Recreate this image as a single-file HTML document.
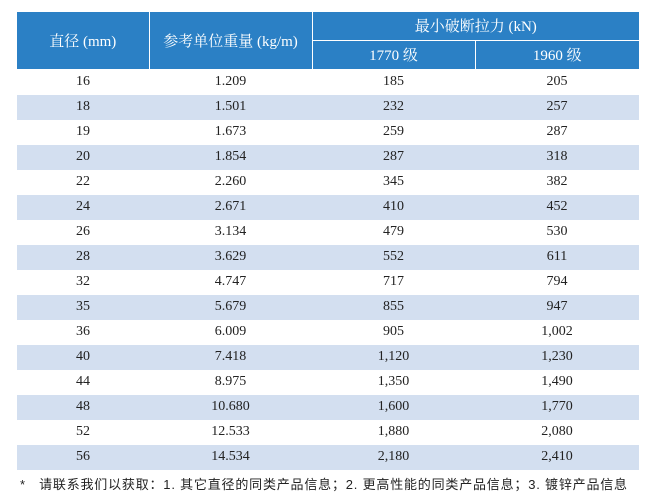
<!DOCTYPE html>
<html><head><meta charset="utf-8"><style>
body{margin:0;width:650px;height:500px;background:#fff;position:relative;font-family:"Liberation Serif","Noto Serif CJK SC",serif;}
table{position:absolute;left:17px;top:12px;width:622px;border-collapse:collapse;table-layout:fixed;}
th{background:#2b80c5;color:#fff;font-weight:normal;font-size:15px;border:1px solid #fff;padding:0;}
td{height:25px;padding:0;text-align:center;font-size:14px;color:#222;}
tr.s td{background:#d3dff0;}
.foot{position:absolute;left:20px;top:474px;font-family:"Liberation Sans","Noto Sans CJK SC",sans-serif;font-size:13px;letter-spacing:0.8px;color:#222;white-space:nowrap;}
</style></head><body>
<table>
<colgroup><col style="width:132px"><col style="width:163px"><col style="width:163px"><col style="width:164px"></colgroup>
<tr style="height:28px"><th rowspan="2" style="border-left:none;border-top:none">直径 (mm)</th><th rowspan="2" style="border-top:none">参考单位重量 (kg/m)</th><th colspan="2" style="border-top:none;border-right:none">最小破断拉力 (kN)</th></tr>
<tr style="height:29px"><th>1770 级</th><th style="border-right:none">1960 级</th></tr>
<tr><td>16</td><td>1.209</td><td>185</td><td>205</td></tr>
<tr class="s"><td>18</td><td>1.501</td><td>232</td><td>257</td></tr>
<tr><td>19</td><td>1.673</td><td>259</td><td>287</td></tr>
<tr class="s"><td>20</td><td>1.854</td><td>287</td><td>318</td></tr>
<tr><td>22</td><td>2.260</td><td>345</td><td>382</td></tr>
<tr class="s"><td>24</td><td>2.671</td><td>410</td><td>452</td></tr>
<tr><td>26</td><td>3.134</td><td>479</td><td>530</td></tr>
<tr class="s"><td>28</td><td>3.629</td><td>552</td><td>611</td></tr>
<tr><td>32</td><td>4.747</td><td>717</td><td>794</td></tr>
<tr class="s"><td>35</td><td>5.679</td><td>855</td><td>947</td></tr>
<tr><td>36</td><td>6.009</td><td>905</td><td>1,002</td></tr>
<tr class="s"><td>40</td><td>7.418</td><td>1,120</td><td>1,230</td></tr>
<tr><td>44</td><td>8.975</td><td>1,350</td><td>1,490</td></tr>
<tr class="s"><td>48</td><td>10.680</td><td>1,600</td><td>1,770</td></tr>
<tr><td>52</td><td>12.533</td><td>1,880</td><td>2,080</td></tr>
<tr class="s"><td>56</td><td>14.534</td><td>2,180</td><td>2,410</td></tr>
</table>
<div class="foot">*&nbsp;&nbsp; 请联系我们以获取：1. 其它直径的同类产品信息；2. 更高性能的同类产品信息；3. 镀锌产品信息</div>
</body></html>
